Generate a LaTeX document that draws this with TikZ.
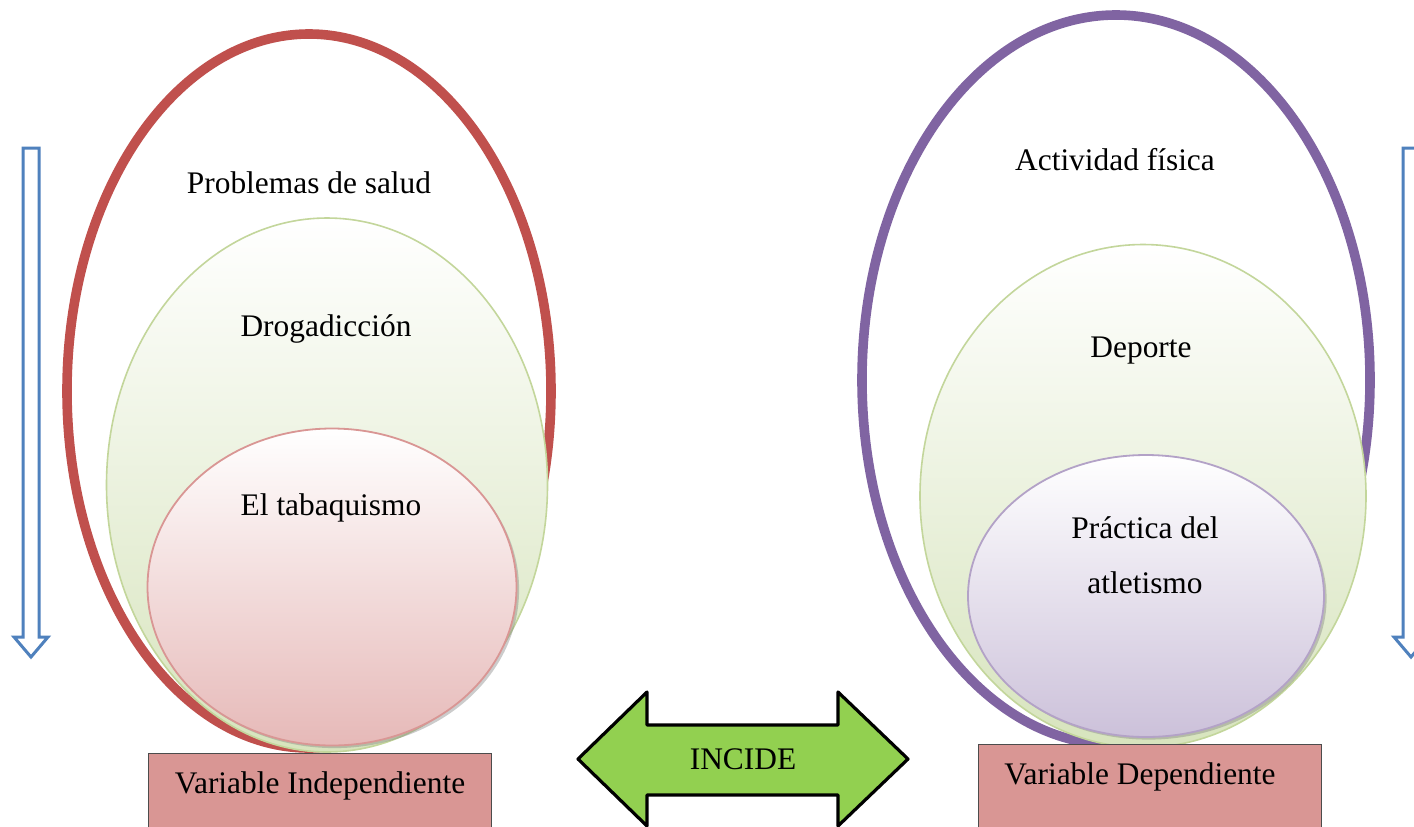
\documentclass[tikz,border=0pt]{standalone}
\usepackage{fontspec}
\setmainfont{Liberation Serif}
\usetikzlibrary{shapes.geometric,shadows}
\definecolor{redline}{HTML}{C0504D}
\definecolor{purpline}{HTML}{8064A2}
\definecolor{greenline}{HTML}{C3D69B}
\definecolor{greenfill}{HTML}{D7E4BD}
\definecolor{pinkline}{HTML}{D99694}
\definecolor{pinkfill}{HTML}{E6B9B8}
\definecolor{lilacline}{HTML}{B3A2C7}
\definecolor{lilacfill}{HTML}{CCC1DA}
\definecolor{boxfill}{HTML}{D99694}
\definecolor{arrowgreen}{HTML}{92D050}
\definecolor{blueline}{HTML}{4F81BD}
\begin{document}
\begin{tikzpicture}[x=0.5pt,y=-0.5pt,
  every node/.style={font=\fontsize{15.7}{18}\selectfont, inner sep=0pt},
  outerell/.style={ellipse, draw, line width=4.8pt},
  midell/.style={ellipse, draw=greenline, line width=0.8pt, top color=white, bottom color=greenfill, shading angle=0},
  innerell/.style={ellipse, line width=0.9pt, drop shadow={opacity=0.4, shadow xshift=1.3pt, shadow yshift=-1.3pt}},
  varbox/.style={rectangle, draw=black!70, line width=0.6pt, fill=boxfill, minimum width=171.5pt, minimum height=50pt},
  lbl/.style={text=black},
  bluearrow/.style={draw=blueline, line width=1.5pt, fill=white, line join=miter}
]
\clip (0,0) rectangle (1414,826);
\fill[white] (0,0) rectangle (1414,826);

% Left group
\node[outerell, draw=redline, minimum width=242pt, minimum height=357pt] (redE) at (309,391) {};
\node[midell, minimum width=220.5pt, minimum height=267pt] (greenL) at (327,485) {};
\node[innerell, draw=pinkline, top color=white, bottom color=pinkfill, minimum width=184.5pt, minimum height=158.5pt] (pinkE) at (332,587) {};
\node[lbl] (t1) at (309,183) {Problemas de salud};
\node[lbl] (t2) at (326,329) {Drogadicción};
\node[lbl] (t3) at (331,508) {El tabaquismo};

% Right group
\node[outerell, draw=purpline, minimum width=254pt, minimum height=365pt] (purpE) at (1116,380) {};
\node[midell, minimum width=223pt, minimum height=251.5pt] (greenR) at (1143,496) {};
\node[innerell, draw=lilacline, top color=white, bottom color=lilacfill, minimum width=178pt, minimum height=141pt] (lilacE) at (1146,596) {};
\node[lbl] (t4) at (1115,160) {Actividad física};
\node[lbl] (t5) at (1141,351) {Deporte};
\node[lbl] (t6) at (1145,528) {Práctica del};
\node[lbl] (t7) at (1145,583) {atletismo};

% Boxes
\node[varbox, anchor=north west] (boxL) at (148,753) {};
\node[varbox, anchor=north west] (boxR) at (978,744) {};
\node[lbl] (vi) at (320,786) {Variable Independiente};
\node[lbl] (vd) at (1140,777) {Variable Dependiente};

% INCIDE double arrow
\draw[line width=1.6pt, fill=arrowgreen, line join=round]
  (578,759) -- (647,692) -- (647,725) -- (838,725) -- (838,692) -- (908,759)
  -- (838,826) -- (838,795) -- (647,795) -- (647,826) -- cycle;
\node[lbl] (inc) at (743,759) {INCIDE};

% Blue outline arrows
\draw[bluearrow] (23,148) -- (39,148) -- (39,637) -- (48,637) -- (31,657) -- (14,637) -- (23,637) -- cycle;
\draw[bluearrow] (1403,148) -- (1419,148) -- (1419,637) -- (1428,637) -- (1411,657) -- (1394,637) -- (1403,637) -- cycle;
\end{tikzpicture}
\end{document}
